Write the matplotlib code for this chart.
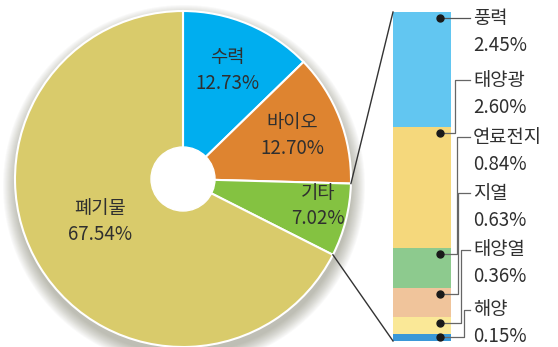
import numpy as np
import matplotlib.pyplot as plt
from matplotlib.patches import Circle

plt.rcParams['font.family'] = ['Noto Sans CJK KR', 'DejaVu Sans']

# Pie data (share of renewable energy)
pie_names = ['수력', '바이오', '기타', '폐기물']
pie_values = [12.73, 12.70, 7.02, 67.54]
pie_colors = ['#00AEEF', '#DE8430', '#84C241', '#D9CB6B']

# Breakdown of "기타"
bar_names = ['풍력', '태양광', '연료전지', '지열', '태양열', '해양']
bar_values = [2.45, 2.60, 0.84, 0.63, 0.36, 0.15]
bar_colors = ['#62C6F1', '#F5D87C', '#8DCA8E', '#F0C49B', '#FAE897', '#3A98D8']

W, H = 558, 347
fig = plt.figure(figsize=(W / 100, H / 100), dpi=100)
ax = fig.add_axes([0, 0, 1, 1])

cx, cy, R = 183, 168, 168

# soft drop shadow
for i in range(14):
    ax.add_patch(Circle((cx + 1, cy - 7), R + 13 - i, color='#5a5a40', alpha=0.03, lw=0, zorder=0))

wedges, _ = ax.pie(pie_values, colors=pie_colors, startangle=90, counterclock=False,
                   center=(cx, cy), radius=R, frame=True,
                   wedgeprops=dict(edgecolor='white', linewidth=1.5))
ax.set_xlim(0, W)
ax.set_ylim(0, H)
ax.set_aspect('equal')
ax.axis('off')
ax.add_patch(Circle((cx, cy), 32, color='white', zorder=5))

txt = '#2f2f2f'
fs = 13.5
pie_label_pos = [(227, 57), (292, 122), (318, 193), (100, 208)]
for name, val, (x, y) in zip(pie_names, pie_values, pie_label_pos):
    ax.text(x, H - y, name, ha='center', va='center', fontsize=fs, color=txt, zorder=6)
    ax.text(x, H - y - 26, f'{val:.2f}%', ha='center', va='center', fontsize=fs, color=txt, zorder=6)

# stacked bar for 기타 breakdown
bx, bw = 393, 58
btop, bbot = H - 12, H - 341
scale = (btop - bbot) / sum(bar_values)
tops = btop - np.concatenate([[0], np.cumsum(bar_values)[:-1]]) * scale
heights = np.array(bar_values) * scale
ax.bar(bx, -heights, bottom=tops, width=bw, align='edge', color=bar_colors, lw=0, zorder=3)

# lines from 기타 wedge to bar
w = wedges[2]
for ang, by in [(w.theta2, btop), (w.theta1, bbot)]:
    px = cx + R * np.cos(np.radians(ang))
    py = cy + R * np.sin(np.radians(ang))
    ax.plot([px, bx], [py, by], color='#333333', lw=1, zorder=4)

# labels with leader lines
dot_x = 440
elbow_x = [None, 455, 457, 458, 461, 464]
label_y = [18, 80, 137, 193, 250, 310]
for i, (name, val) in enumerate(zip(bar_names, bar_values)):
    dy = min(6, heights[i] / 2)
    yd = tops[i] - dy
    yl = H - label_y[i]
    if elbow_x[i] is None:
        ax.plot([dot_x, 470], [yd, yd], color='#555555', lw=0.9, zorder=6)
    else:
        ex = elbow_x[i]
        ax.plot([dot_x, ex, ex, 470], [yd, yd, yl, yl], color='#666666', lw=0.9, zorder=6)
    ax.plot(dot_x, yd, 'o', color='#1a1a1a', ms=5, zorder=7)
    ax.text(473, yl, name, ha='left', va='center', fontsize=fs, color=txt)
    ax.text(473, yl - 27, f'{val:.2f}%', ha='left', va='center', fontsize=fs, color=txt)

fig.savefig('out.png', dpi=100, facecolor='white')
